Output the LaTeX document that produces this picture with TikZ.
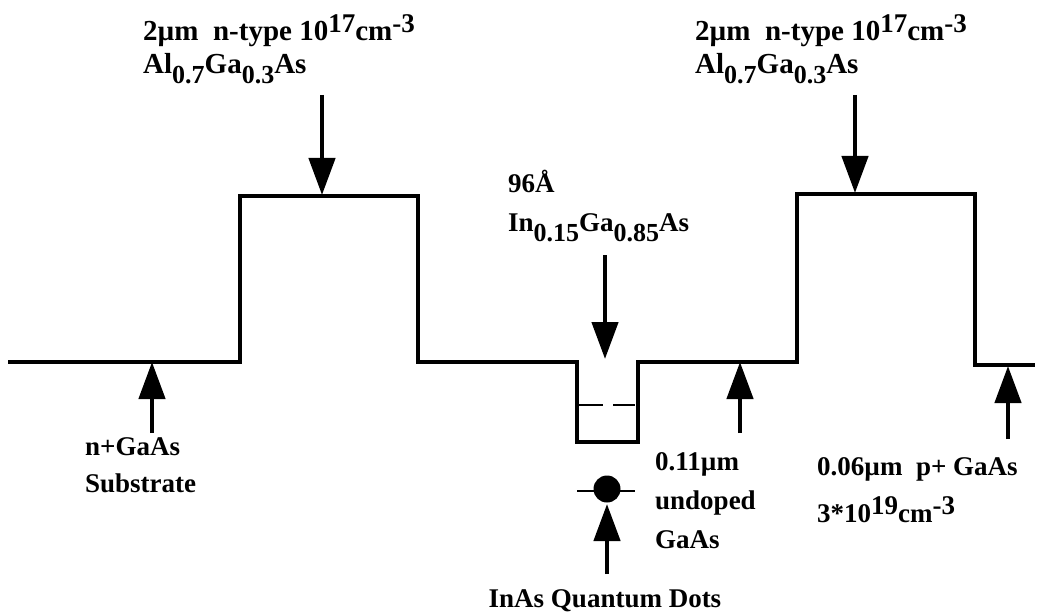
\documentclass[tikz,border=0pt]{standalone}
\usepackage{fontspec}
\setmainfont{Liberation Serif}
\usetikzlibrary{arrows.meta}
\newcommand{\lw}[1]{\raisebox{-10pt}{\fontsize{26}{26}\selectfont #1}}
\newcommand{\hg}[1]{\raisebox{8pt}{\fontsize{27}{27}\selectfont #1}}
\tikzset{
  lbl/.style={anchor=base west, inner sep=0pt, font=\fontsize{27}{30}\selectfont\bfseries},
  biglbl/.style={lbl, font=\fontsize{29}{32}\selectfont\bfseries},
  band/.style={line width=4pt, line join=miter, line cap=butt},
  marker/.style={line width=4.5pt, -{Triangle[width=26pt,length=37pt]}},
  thin/.style={line width=2pt}
}
\begin{document}
\begin{tikzpicture}[x=1pt,y=-1pt]
\path[use as bounding box] (0,0) rectangle (1050,615);
% band profile
\draw[band] (8,362) -- (240,362) -- (240,196) -- (418,196) -- (418,362) -- (577,362)
  -- (577,442) -- (638,442) -- (638,362) -- (797,362) -- (797,194) -- (975,194)
  -- (975,365) -- (1035,365);
% dashed level in well
\draw[thin] (579,405) -- (603,405);
\draw[thin] (613,405) -- (635,405);
% quantum dot
\draw[thin] (577,491) -- (635,491);
\fill (607,489) circle (13.5);
% arrow coordinates
\coordinate (a1s) at (322,95);  \coordinate (a1e) at (322,195);
\coordinate (a2s) at (605,255); \coordinate (a2e) at (605,359);
\coordinate (a3s) at (855,95);  \coordinate (a3e) at (855,193);
\coordinate (b1s) at (152,433); \coordinate (b1e) at (152,362);
\coordinate (b2s) at (740,433); \coordinate (b2e) at (740,362);
\coordinate (b3s) at (1008,439);\coordinate (b3e) at (1008,366);
\coordinate (b4s) at (607,574); \coordinate (b4e) at (607,504);
\draw[marker] (a1s) -- (a1e);
\draw[marker] (a2s) -- (a2e);
\draw[marker] (a3s) -- (a3e);
\draw[marker] (b1s) -- (b1e);
\draw[marker] (b2s) -- (b2e);
\draw[marker] (b3s) -- (b3e);
\draw[marker] (b4s) -- (b4e);
% labels
\node[biglbl] (t1a) at (143,41) {2µm\ \ n-type 10\hg{17}cm\hg{-3}};
\node[biglbl] (t1b) at (143,74) {Al\lw{0.7}Ga\lw{0.3}As};
\node[biglbl] (t2a) at (695,41) {2µm\ \ n-type 10\hg{17}cm\hg{-3}};
\node[biglbl] (t2b) at (695,74) {Al\lw{0.7}Ga\lw{0.3}As};
\node[lbl] (w1) at (508,193) {96Å};
\node[lbl] (w2) at (508,231) {In\lw{0.15}Ga\lw{0.85}As};
\node[lbl] (s1) at (85,455) {n+GaAs};
\node[lbl] (s2) at (85,492) {Substrate};
\node[lbl] (u1) at (655,470) {0.11µm};
\node[lbl] (u2) at (655,509) {undoped};
\node[lbl] (u3) at (655,548) {GaAs};
\node[lbl] (p1) at (817,475) {0.06µm\ \ p+ GaAs};
\node[lbl] (p2) at (817,522) {3*10\hg{19}cm\hg{-3}};
\node[lbl, anchor=base] (qd) at (605,607) {InAs Quantum Dots};
\end{tikzpicture}
\end{document}
